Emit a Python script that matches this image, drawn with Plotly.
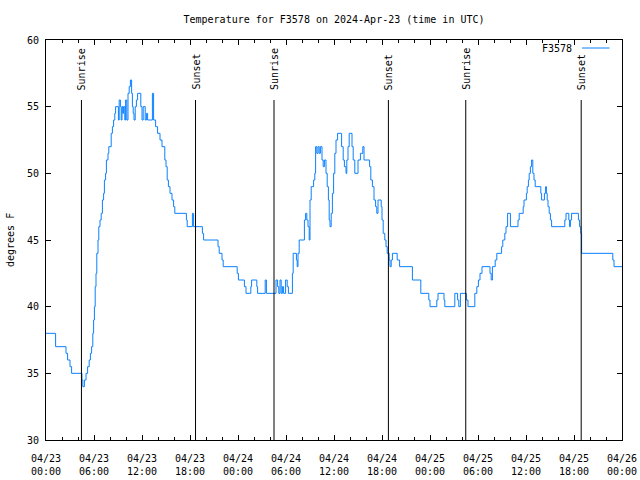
import plotly.graph_objects as go

# ---- data (hours since 2024-04-23 00:00 UTC, temperature in F) ----
hours = [
    0.0, 1.2, 2.5, 2.7, 3.0, 3.2,
    4.5, 4.6, 4.8, 5.0, 5.2, 5.4, 5.55, 5.7, 5.85, 5.95, 6.05, 6.15, 6.25, 6.35,
    6.5, 6.6, 6.75, 6.9, 7.05, 7.2, 7.3, 7.45, 7.55, 7.75, 7.85, 8.15, 8.3, 8.45,
    8.6, 8.7, 9.05, 9.15, 9.3, 9.4, 9.5, 9.6, 9.7, 9.85, 9.95, 10.1, 10.25, 10.4,
    10.55, 10.7, 10.8, 10.9, 11.0, 11.15, 11.3, 11.45, 11.85, 12.0, 12.15, 12.4,
    12.55, 12.7, 13.3, 13.45, 13.7, 13.95, 14.25, 14.5, 14.85, 15.0, 15.15, 15.3,
    15.5, 15.75, 15.95, 16.1, 17.55, 17.65, 18.3, 18.45, 19.55, 19.7, 21.5, 21.65,
    22.0, 22.15, 23.9, 24.05, 24.8, 25.0, 25.6, 25.7, 26.35, 26.45, 27.4, 27.55,
    28.75, 28.95, 29.1, 29.25, 29.4, 29.55, 29.7, 29.95, 30.15, 30.3, 30.8, 30.9,
    31.3, 31.4, 31.5, 31.65, 32.3, 32.45, 32.6, 32.75, 32.9, 33.0, 33.15, 33.45,
    33.6, 33.7, 33.85, 34.0, 34.15, 34.3, 34.5, 34.65, 34.8, 35.0, 35.15, 35.3,
    35.4, 35.5, 35.65, 35.8, 35.95, 36.1, 36.25, 36.45, 36.95, 37.15, 37.3, 37.5,
    37.6, 37.75, 37.9, 38.25, 38.4, 38.6, 39.0, 39.3, 39.6, 39.75, 40.45, 40.6,
    40.8, 41.0, 41.2, 41.35, 41.5, 41.9, 42.0, 42.15, 42.35, 42.5, 42.65, 42.9,
    43.0, 43.15, 43.3, 43.9, 44.2, 45.8, 46.85, 47.85, 48.0, 48.85, 49.0, 49.75,
    49.85, 51.1, 51.45, 51.6, 51.8, 52.55, 52.75, 53.6, 53.85, 54.05, 54.25, 54.5,
    55.5, 55.65, 55.8, 56.15, 56.35, 56.95, 57.1, 57.35, 57.5, 57.7, 58.05, 59.0,
    59.15, 59.65, 59.75, 60.05, 60.15, 60.3, 60.4, 60.55, 60.7, 60.85, 61.0, 61.15,
    61.85, 61.95, 62.3, 62.45, 62.55, 62.65, 62.75, 62.9, 63.05, 63.2, 64.85, 65.0,
    65.35, 65.45, 65.55, 65.7, 66.55, 66.7, 66.85, 66.95, 70.85, 71.0, 72.0,
]
temps_f = [
    38, 37, 36.5, 36, 35.5, 35,
    34.5, 34, 34.5, 35, 35.5, 36, 36.5, 37, 38, 39, 40, 41.5, 42.5, 44,
    45, 46, 46.5, 47, 48, 48.5, 49.5, 50, 51, 51.5, 52, 53, 53.5, 54,
    54.5, 55, 54, 55.5, 55, 54, 55, 54.5, 55, 54, 55.5, 54, 56, 56.5,
    57, 56, 55, 54.5, 54, 55, 55.5, 56, 55, 54, 55, 54,
    54.5, 54, 56, 54, 53.5, 53, 52.5, 52, 51, 50.5, 49.5, 49,
    48.5, 48, 47.5, 47, 46.5, 46, 47, 46, 45.5, 45, 44.5, 44,
    43.5, 43, 42.5, 42, 41.5, 41, 41.5, 42, 41.5, 41, 42, 41,
    42, 41.5, 41, 42, 41, 41.5, 41, 42, 41.5, 41, 42.5, 44,
    43.5, 43, 44, 45, 46.5, 47, 46.5, 46, 45, 48, 49, 49.5,
    50, 52, 51.5, 52, 51.5, 52, 51, 50.5, 51, 50, 49, 48,
    46.5, 46, 47, 48.5, 50, 51.5, 52.5, 53, 52, 51, 50.5, 50,
    51, 52, 53, 52, 51, 50, 51, 51.5, 52, 51, 50.5, 49.5,
    49, 48, 47.5, 47, 48, 47.5, 46.5, 45.5, 45, 44.5, 44, 43.5,
    43, 43.5, 44, 43.5, 43, 42, 41, 40.5, 40, 40.5, 41, 40.5,
    40, 41, 40.5, 40, 41, 40.5, 40, 41, 41.5, 42, 42.5, 43,
    42.5, 42, 43, 43.5, 44, 44.5, 45, 45.5, 46, 47, 46, 46.5,
    47, 47.5, 48, 48.5, 49, 49.5, 50, 50.5, 51, 50, 49.5, 49,
    48.5, 48, 48.5, 49, 48.5, 48, 47.5, 47, 46.5, 46, 46.5, 47,
    46.5, 46, 46.5, 47, 46.5, 46, 45.5, 44, 43.5, 43, 43,
]

sun_hours = [4.43, 18.69, 28.5, 42.8, 52.47, 66.9]
sun_labels = ["Sunrise", "Sunset", "Sunrise", "Sunset", "Sunrise", "Sunset"]

tick_hours = [0, 6, 12, 18, 24, 30, 36, 42, 48, 54, 60, 66, 72]
tick_labels = ["04/23<br>00:00", "04/23<br>06:00", "04/23<br>12:00", "04/23<br>18:00",
               "04/24<br>00:00", "04/24<br>06:00", "04/24<br>12:00", "04/24<br>18:00",
               "04/25<br>00:00", "04/25<br>06:00", "04/25<br>12:00", "04/25<br>18:00",
               "04/26<br>00:00"]
y_ticks = [30, 35, 40, 45, 50, 55, 60]

series_name = "F3578"
title_text = "Temperature for F3578 on 2024-Apr-23 (time in UTC)"
LINE_COLOR = "#0a80ff"
FONT = dict(family="DejaVu Sans Mono, Liberation Mono, monospace", size=10, color="black")

fig = go.Figure()
fig.add_trace(go.Scatter(x=hours, y=temps_f, mode="lines", line_shape="hv",
                         line=dict(color=LINE_COLOR, width=1), name=series_name,
                         showlegend=False))

shapes = []
annotations = []
for h, lab in zip(sun_hours, sun_labels):
    shapes.append(dict(type="line", xref="x", yref="y", x0=h, x1=h, y0=30, y1=55.5,
                       line=dict(color="black", width=1)))
    annotations.append(dict(x=h, y=56.1, xref="x", yref="y", text=lab, textangle=-90,
                            showarrow=False, xanchor="center", yanchor="bottom",
                            font=FONT))

# legend (gnuplot style: text left, sample right)
annotations.append(dict(x=0.917, y=0.98, xref="paper", yref="paper", text=series_name,
                        showarrow=False, xanchor="right", yanchor="middle", font=FONT))
shapes.append(dict(type="line", xref="paper", yref="paper", x0=0.9306, x1=0.9783,
                   y0=0.98, y1=0.98, line=dict(color=LINE_COLOR, width=1)))

# y-axis title
annotations.append(dict(x=-0.0625, y=0.5, xref="paper", yref="paper", text="degrees F",
                        textangle=-90, showarrow=False, xanchor="center", yanchor="middle",
                        font=FONT))

fig.update_layout(
    width=640, height=480,
    margin=dict(l=46, r=18, t=40, b=40, autoexpand=False),
    paper_bgcolor="white", plot_bgcolor="white",
    font=FONT,
    title=dict(text=title_text, x=0.5, xref="paper", y=1 - 19 / 480, yref="container",
               xanchor="center", yanchor="middle", font=FONT),
    shapes=shapes, annotations=annotations,
    showlegend=False,
)
fig.update_xaxes(range=[0, 72], tickvals=tick_hours, ticktext=tick_labels,
                 automargin=False,
                 showgrid=False, zeroline=False, showline=True, mirror="ticks",
                 linecolor="black", linewidth=1, ticks="inside", ticklen=5,
                 tickcolor="black", ticklabelstandoff=9,
                 minor=dict(dtick=2, tick0=0, ticks="inside", ticklen=3, tickcolor="black",
                            showgrid=False))
fig.update_yaxes(range=[30, 60], tickvals=y_ticks, automargin=False,
                 showgrid=False, zeroline=False, showline=True, mirror="ticks",
                 linecolor="black", linewidth=1, ticks="inside", ticklen=5,
                 tickcolor="black", ticklabelstandoff=4)

fig.write_html("out.html", config={"displayModeBar": False},
               post_script="document.body.style.margin='0';")
